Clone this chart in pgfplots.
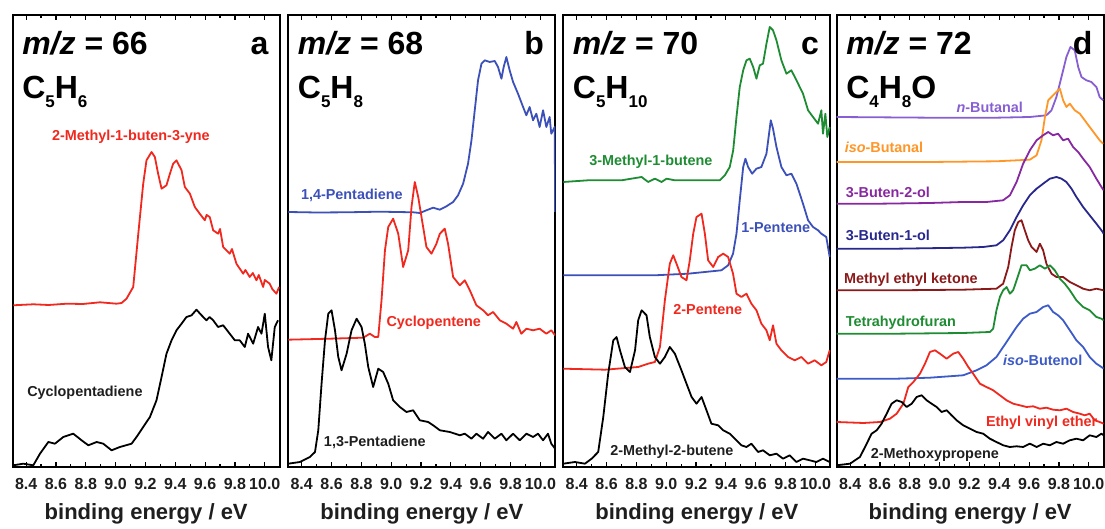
\documentclass[border=0pt]{standalone}
\usepackage{fontspec}
\setmainfont{Liberation Sans}
\usepackage{pgfplots}
\pgfplotsset{compat=1.18}
\definecolor{cred}{RGB}{240,40,30}
\definecolor{cblue}{RGB}{60,80,185}
\definecolor{cgreen}{RGB}{30,140,50}
\definecolor{cviolet}{RGB}{135,95,210}
\definecolor{corange}{RGB}{255,150,40}
\definecolor{cpurple}{RGB}{135,40,160}
\definecolor{cnavy}{RGB}{40,40,140}
\definecolor{cbrown}{RGB}{140,25,25}
\definecolor{cblue2}{RGB}{60,90,200}
\definecolor{ctext}{RGB}{30,30,30}
\pgfplotsset{
 panel/.style={
  width=133.5pt, height=225.85pt, scale only axis, anchor=south west,
  xmin=8.31, xmax=10.10, ymin=0, ymax=451.7,
  xtick={8.4,8.6,8.8,9.0,9.2,9.4,9.6,9.8,10.0},
  xticklabels={8.4,8.6,8.8,9.0,9.2,9.4,9.6,9.8,10.0},
  minor xtick={8.5,8.7,8.9,9.1,9.3,9.5,9.7,9.9},
  ytick=\empty,
  tick align=inside,
  xtick pos=both, xticklabel pos=lower,
  major tick length=2.5pt, minor tick length=1.5pt,
  every tick/.style={black, line width=0.6pt},
  axis line style={line width=1pt},
  xticklabel style={font=\bfseries\fontsize{8}{9}\selectfont, text=ctext, anchor=base, yshift=-11.5pt},
  xlabel={binding energy / eV},
  xlabel style={font=\bfseries\fontsize{11}{13}\selectfont, text=ctext, at={(axis description cs:0.5,0)}, anchor=base, yshift=-26.5pt},
  /pgf/number format/assume math mode=true,
  every axis plot/.append style={line width=0.9pt, line join=round},
 },
}
\tikzset{lab/.style={font=\bfseries\fontsize{7.2}{8}\selectfont, inner sep=0pt}}
\newcommand{\paneltitle}[3]{%
 \node[anchor=base west, font=\bfseries\fontsize{16}{18}\selectfont, inner sep=0pt, xshift=4.6pt, yshift=-19.5pt] at (rel axis cs:0,1) {\textit{m/z} = #1};
 \node[anchor=base west, font=\bfseries\fontsize{16}{18}\selectfont, inner sep=0pt, xshift=4.6pt, yshift=-41.5pt] at (rel axis cs:0,1) {#2};
 \node[anchor=base east, font=\bfseries\fontsize{16}{18}\selectfont, inner sep=0pt, xshift=-5.5pt, yshift=-19.5pt] at (rel axis cs:1,1) {#3};
}
\newcommand{\sub}[1]{\raisebox{-4.5pt}{\fontsize{8.5}{9}\selectfont #1}}
\begin{document}
\begin{tikzpicture}
\useasboundingbox (0,0) rectangle (552.5pt,264.5pt);
% ---------------- panel a ----------------
\begin{axis}[panel, at={(6.35pt,31pt)}]
\addplot[cred] coordinates {(8.314,161.7)(8.448,162.7)(8.55,162)(8.672,163.3)(8.78,163)(8.895,164.7)(9.006,163.3)(9.04,164)(9.073,168.3)(9.118,180)(9.152,233.3)(9.185,283.3)(9.207,306.7)(9.241,315)(9.263,310)(9.285,293.3)(9.308,278.3)(9.341,281.7)(9.364,293.3)(9.386,303.3)(9.408,306.7)(9.442,296.7)(9.464,280)(9.498,273.3)(9.531,260)(9.564,253.3)(9.598,246.7)(9.61,252)(9.631,250)(9.654,236.7)(9.687,233.3)(9.70,238)(9.721,220)(9.765,213.3)(9.78,218)(9.810,203.3)(9.855,193.3)(9.87,197)(9.899,190)(9.92,194)(9.944,186.7)(9.96,192)(9.989,180)(10.0,187)(10.033,183.3)(10.05,178)(10.078,173.3)(10.096,180)};
\addplot[black] coordinates {(8.314,1.7)(8.381,3.3)(8.448,1.7)(8.493,13.3)(8.549,25)(8.593,23.3)(8.649,30)(8.716,33.3)(8.772,26.7)(8.817,21.7)(8.873,25)(8.917,23.3)(8.973,16.7)(9.029,20)(9.107,23.3)(9.140,30)(9.185,40)(9.230,50)(9.274,66.7)(9.308,90)(9.341,113.3)(9.375,126.7)(9.408,136.7)(9.442,143.3)(9.475,150)(9.509,151.7)(9.542,157.3)(9.576,151.7)(9.609,146.7)(9.63,150)(9.654,146.7)(9.687,140)(9.721,141.7)(9.765,133.3)(9.799,126.7)(9.832,126.7)(9.866,120)(9.888,133.3)(9.922,123.3)(9.955,140)(9.978,133.3)(10.000,153.3)(10.022,120)(10.044,106.7)(10.067,140)(10.089,146.7)};
\paneltitle{66}{C\sub{5}H\sub{6}}{a}
\node[lab, text=cred] at (axis cs:9.102,330) {2-Methyl-1-buten-3-yne};
\node[lab, text=ctext] at (axis cs:8.794,74) {Cyclopentadiene};
\end{axis}
% ---------------- panel b ----------------
\begin{axis}[panel, at={(144.15pt,31pt)}]
\addplot[cblue] coordinates {(8.310,255)(8.50,254.5)(8.701,254.7)(8.924,255.3)(9.147,254.7)(9.192,254)(9.236,256.7)(9.281,259.3)(9.326,257.3)(9.370,260.7)(9.415,265)(9.448,271.7)(9.482,283.3)(9.515,303.3)(9.538,326.7)(9.560,356.7)(9.582,386.7)(9.605,403.3)(9.627,406.7)(9.660,405)(9.694,406)(9.716,400)(9.739,388.3)(9.754,400)(9.772,410)(9.794,396.7)(9.817,385)(9.850,373.3)(9.884,360)(9.906,351.7)(9.928,360)(9.951,346.7)(9.973,353.3)(9.995,340)(10.018,356.7)(10.040,340)(10.062,350)(10.073,333.3)(10.096,340)(10.099,255)};
\addplot[cred] coordinates {(8.310,127.3)(8.589,128.3)(8.812,129.3)(8.857,133.3)(8.890,130)(8.913,130)(8.935,166.7)(8.958,216.7)(8.980,240)(9.013,248.3)(9.047,233.3)(9.080,200)(9.114,216.7)(9.136,260)(9.158,285)(9.181,270)(9.203,250)(9.236,220)(9.270,213.3)(9.303,223.3)(9.326,233.3)(9.359,238.3)(9.381,223.3)(9.415,190)(9.460,181.7)(9.493,186.7)(9.527,176.7)(9.571,161.7)(9.616,156.7)(9.649,151.7)(9.683,155)(9.728,146.7)(9.772,143.3)(9.817,138.3)(9.839,145)(9.872,133.3)(9.906,138.3)(9.951,136.7)(9.995,138.3)(10.040,133.3)(10.073,136.7)(10.099,131.7)};
\addplot[black] coordinates {(8.310,3.3)(8.388,5)(8.455,10)(8.489,15)(8.511,36.7)(8.533,83.3)(8.556,126.7)(8.578,153.3)(8.600,156.7)(8.623,136.7)(8.645,110)(8.667,96.7)(8.701,113.3)(8.734,136.7)(8.768,148.3)(8.801,140)(8.823,123.3)(8.846,100)(8.879,80)(8.913,98.3)(8.946,95)(8.980,83.3)(9.013,66.7)(9.058,60)(9.102,55)(9.147,56.7)(9.192,46.7)(9.248,45)(9.281,41.7)(9.326,36.7)(9.393,35)(9.460,31.7)(9.493,33.3)(9.538,28.3)(9.571,33.3)(9.616,28.3)(9.649,35)(9.694,28.3)(9.739,33.3)(9.772,26.7)(9.817,33.3)(9.862,26.7)(9.906,33.3)(9.951,30)(9.984,33.3)(10.018,26.7)(10.051,33.3)(10.073,23.3)(10.099,18.3)};
\paneltitle{68}{C\sub{5}H\sub{8}}{b}
\node[lab, text=cblue] at (axis cs:8.736,272) {1,4-Pentadiene};
\node[lab, text=cred] at (axis cs:9.285,144) {Cyclopentene};
\node[lab, text=ctext] at (axis cs:8.890,25) {1,3-Pentadiene};
\end{axis}
% ---------------- panel c ----------------
\begin{axis}[panel, at={(281.65pt,31pt)}]
\addplot[cgreen] coordinates {(8.310,285)(8.477,286.7)(8.701,286.7)(8.835,290)(8.879,285)(8.924,288.3)(8.969,285)(9.002,288.3)(9.058,286.7)(9.147,286.7)(9.259,286.7)(9.359,286.7)(9.393,291.7)(9.426,300)(9.449,316.7)(9.471,350)(9.493,380)(9.516,396.7)(9.538,406.7)(9.560,408.3)(9.583,400)(9.605,388.3)(9.627,401.7)(9.649,403.3)(9.672,423.3)(9.694,440)(9.716,436.7)(9.739,426.7)(9.772,406.7)(9.806,393.3)(9.839,396.7)(9.873,386.7)(9.917,373.3)(9.951,356.7)(9.984,350)(10.018,343.3)(10.040,356.7)(10.051,333.3)(10.067,353.3)(10.080,330)(10.096,340)};
\addplot[cblue] coordinates {(8.310,191.7)(8.589,191.7)(8.924,191.7)(9.147,193.3)(9.259,195)(9.370,196.7)(9.415,201.7)(9.448,213.3)(9.471,233.3)(9.493,266.7)(9.516,300)(9.531,308.3)(9.549,300)(9.576,293.3)(9.605,298.3)(9.638,300)(9.672,313.3)(9.701,346.7)(9.716,338.3)(9.739,320)(9.772,300)(9.806,291.7)(9.839,293.3)(9.873,283.3)(9.917,263.3)(9.951,246.7)(9.984,240)(10.018,236.7)(10.040,233.3)(10.073,230)(10.096,210)};
\addplot[cred] coordinates {(8.310,98.3)(8.589,97.3)(8.812,100)(8.879,103.3)(8.924,105)(8.958,120)(8.991,166.7)(9.024,203.3)(9.047,211.7)(9.069,203.3)(9.102,190)(9.136,186.7)(9.158,206.7)(9.181,233.3)(9.203,250)(9.237,253.3)(9.259,233.3)(9.281,206.7)(9.315,200)(9.348,210)(9.382,213.3)(9.415,210)(9.448,193.3)(9.471,173.3)(9.504,170)(9.538,173.3)(9.571,163.3)(9.605,156.7)(9.638,143.3)(9.672,136.7)(9.694,126.7)(9.716,141.7)(9.739,123.3)(9.772,116.7)(9.817,110)(9.862,106.7)(9.906,110)(9.951,103.3)(9.995,106.7)(10.040,101.7)(10.073,105)(10.096,116.7)};
\addplot[black] coordinates {(8.310,3.3)(8.388,5)(8.455,3.3)(8.500,8.3)(8.544,15)(8.578,50)(8.611,93.3)(8.645,126.7)(8.667,130)(8.690,116.7)(8.723,100)(8.757,95)(8.791,116.7)(8.812,146.7)(8.835,156.7)(8.868,151.7)(8.890,130)(8.924,110)(8.958,103.3)(8.991,110)(9.024,120)(9.058,113.3)(9.102,96.7)(9.136,83.3)(9.170,70)(9.203,63.3)(9.237,70)(9.270,56.7)(9.303,43.3)(9.348,41.7)(9.382,36.7)(9.426,33.3)(9.471,26.7)(9.504,21.7)(9.538,20)(9.571,23.3)(9.616,15)(9.649,16.7)(9.694,11.7)(9.739,13.3)(9.783,8.3)(9.828,11.7)(9.873,5)(9.917,8.3)(9.962,6.7)(10.006,5)(10.051,8.3)(10.096,5)};
\paneltitle{70}{C\sub{5}H\sub{10}}{c}
\node[lab, text=cgreen] at (axis cs:8.897,305) {3-Methyl-1-butene};
\node[lab, text=cblue] at (axis cs:9.734,239) {1-Pentene};
\node[lab, text=cred] at (axis cs:9.279,157) {2-Pentene};
\node[lab, text=ctext] at (axis cs:9.038,15) {2-Methyl-2-butene};
\end{axis}
% ---------------- panel d ----------------
\begin{axis}[panel, at={(418.35pt,31pt)}]
\addplot[cviolet] coordinates {(8.310,350)(8.935,349.3)(9.381,349.3)(9.605,350)(9.716,351.7)(9.750,356.7)(9.783,370)(9.817,390)(9.850,410)(9.877,420)(9.906,416.7)(9.929,400)(9.951,390)(9.984,386.7)(10.018,385)(10.051,380)(10.073,370)(10.096,366.7)};
\addplot[corange] coordinates {(8.310,305)(8.935,305)(9.381,305.7)(9.605,307.3)(9.650,311.7)(9.683,326.7)(9.706,350)(9.728,366.7)(9.750,370)(9.783,375)(9.806,378.3)(9.828,366.7)(9.850,360)(9.873,363.3)(9.906,356.7)(9.940,353.3)(9.973,346.7)(10.006,340)(10.040,333.3)(10.073,326.7)(10.096,323.3)};
\addplot[cpurple] coordinates {(8.310,263.3)(8.600,263.3)(8.935,264)(9.158,265)(9.314,265)(9.426,266.7)(9.471,271.7)(9.516,285)(9.560,303.3)(9.605,316.7)(9.650,326.7)(9.694,331.7)(9.728,335)(9.761,331.7)(9.794,333.3)(9.828,326.7)(9.861,328.3)(9.895,320)(9.929,315)(9.962,308.3)(10.006,300)(10.051,288.3)(10.085,280)(10.100,276.7)};
\addplot[cnavy] coordinates {(8.310,218.3)(8.712,218.3)(9.158,219.3)(9.292,220)(9.381,221.7)(9.426,226.7)(9.471,236.7)(9.516,250)(9.560,261.7)(9.605,271.7)(9.650,278.3)(9.694,283.3)(9.739,288.3)(9.783,290)(9.817,288.3)(9.850,285)(9.884,278.3)(9.917,270)(9.962,260)(10.006,251.7)(10.051,243.3)(10.085,236.7)(10.100,233.3)};
\addplot[cbrown] coordinates {(8.310,176.7)(8.712,176.7)(9.158,177.3)(9.381,178.3)(9.426,183.3)(9.460,200)(9.482,220)(9.504,236.7)(9.527,245)(9.549,246.7)(9.571,236.7)(9.594,226.7)(9.616,220)(9.650,215)(9.672,223.3)(9.694,216.7)(9.716,203.3)(9.750,193.3)(9.783,190)(9.828,190)(9.873,185)(9.917,181.7)(9.962,178.3)(10.006,176.7)(10.051,178.3)(10.100,176.7)};
\addplot[cgreen] coordinates {(8.310,133.3)(8.712,133.3)(9.158,134)(9.337,135)(9.359,138.3)(9.381,156.7)(9.404,170)(9.426,176.7)(9.449,180)(9.471,173.3)(9.493,176.7)(9.516,186.7)(9.549,201.7)(9.583,201.7)(9.605,196.7)(9.638,198.3)(9.672,201.7)(9.706,198.3)(9.739,201.7)(9.772,196.7)(9.806,188.3)(9.839,183.3)(9.873,176.7)(9.917,166.7)(9.962,160)(10.006,156.7)(10.051,150)(10.085,148.3)(10.100,146.7)};
\addplot[cblue2] coordinates {(8.310,88.3)(8.712,88.3)(8.935,89.3)(9.158,91.7)(9.248,96.7)(9.314,101.7)(9.381,110)(9.426,120)(9.471,130)(9.516,140)(9.560,148.3)(9.605,153.3)(9.650,155)(9.694,160)(9.728,161.7)(9.761,155)(9.794,151.7)(9.828,146.7)(9.873,136.7)(9.917,126.7)(9.962,120)(10.006,110)(10.051,103.3)(10.085,100)(10.100,98.3)};
\addplot[cred] coordinates {(8.310,45)(8.489,44)(8.600,45)(8.667,48.3)(8.712,53.3)(8.757,63.3)(8.790,80)(8.824,85)(8.868,93.3)(8.902,103.3)(8.935,115)(8.969,116.7)(9.002,113.3)(9.047,108.3)(9.091,113.3)(9.125,115)(9.158,108.3)(9.192,100)(9.225,93.3)(9.270,83.3)(9.314,80)(9.359,76.7)(9.404,71.7)(9.449,66.7)(9.493,63.3)(9.538,61.7)(9.583,60)(9.627,60.7)(9.672,58.3)(9.716,59.3)(9.761,57.3)(9.806,56.7)(9.850,58.3)(9.895,55)(9.940,53.3)(9.973,51.7)(10.006,53.3)(10.040,46.7)(10.073,45)(10.100,43.3)};
\addplot[black] coordinates {(8.310,1.7)(8.399,3.3)(8.466,10)(8.511,23.3)(8.544,33.3)(8.578,36.7)(8.611,43.3)(8.645,53.3)(8.678,63.3)(8.712,66.7)(8.746,65)(8.779,60)(8.813,63.3)(8.846,70)(8.879,71.7)(8.913,66.7)(8.946,63.3)(8.980,60)(9.013,55)(9.047,56.7)(9.080,51.7)(9.114,46.7)(9.158,41.7)(9.203,38.3)(9.248,35)(9.292,33.3)(9.337,28.3)(9.381,25)(9.426,21.7)(9.471,20)(9.516,20.7)(9.560,20)(9.605,23.3)(9.650,20)(9.694,23.3)(9.739,21.7)(9.783,25)(9.828,23.3)(9.873,26.7)(9.917,28.3)(9.962,26.7)(10.006,31.7)(10.051,30)(10.085,33.3)(10.100,31.7)};
\paneltitle{72}{C\sub{4}H\sub{8}O}{d}
\node[lab, text=cviolet] at (axis cs:9.336,360) {\textit{n}-Butanal};
\node[lab, text=corange] at (axis cs:8.627,320) {\textit{iso}-Butanal};
\node[lab, text=cpurple] at (axis cs:8.653,275) {3-Buten-2-ol};
\node[lab, text=cnavy] at (axis cs:8.653,232) {3-Buten-1-ol};
\node[lab, text=cbrown] at (axis cs:8.807,187) {Methyl ethyl ketone};
\node[lab, text=cgreen] at (axis cs:8.740,144) {Tetrahydrofuran};
\node[lab, text=cblue2] at (axis cs:9.691,107) {\textit{iso}-Butenol};
\node[lab, text=cred] at (axis cs:9.684,44) {Ethyl vinyl ether};
\node[lab, text=ctext] at (axis cs:8.968,12) {2-Methoxypropene};
\end{axis}
\end{tikzpicture}
\end{document}
